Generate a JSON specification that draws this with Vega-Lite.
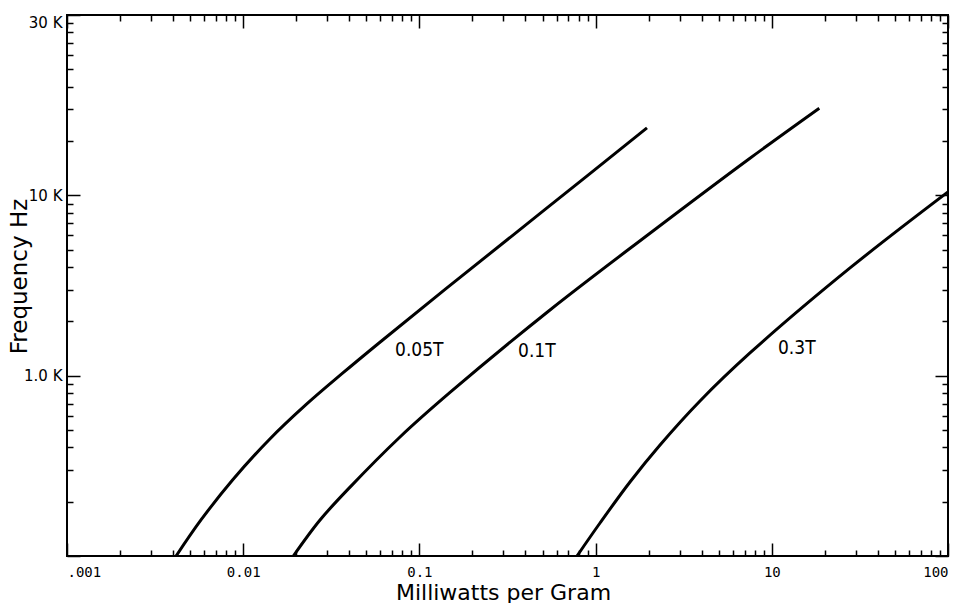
{
  "$schema": "https://vega.github.io/schema/vega-lite/v6.json",
  "width": 881,
  "height": 541,
  "autosize": {"type": "none"},
  "padding": {"left": 67, "top": 15, "right": 5, "bottom": 47},
  "background": "white",
  "datasets": {
    "curves": [
      {"series": "0.05T", "mw": 0.00416, "hz": 100},
      {"series": "0.05T", "mw": 0.00576, "hz": 158.4},
      {"series": "0.05T", "mw": 0.0087, "hz": 264},
      {"series": "0.05T", "mw": 0.01399, "hz": 440},
      {"series": "0.05T", "mw": 0.02263, "hz": 688},
      {"series": "0.05T", "mw": 0.03679, "hz": 1035},
      {"series": "0.05T", "mw": 0.05899, "hz": 1518},
      {"series": "0.05T", "mw": 0.141, "hz": 3027},
      {"series": "0.05T", "mw": 0.5129, "hz": 8299},
      {"series": "0.05T", "mw": 1.957, "hz": 23650},
      {"series": "0.1T", "mw": 0.01925, "hz": 100},
      {"series": "0.1T", "mw": 0.02729, "hz": 158.4},
      {"series": "0.1T", "mw": 0.0404, "hz": 241},
      {"series": "0.1T", "mw": 0.0776, "hz": 457},
      {"series": "0.1T", "mw": 0.1492, "hz": 807},
      {"series": "0.1T", "mw": 0.551, "hz": 2314},
      {"series": "0.1T", "mw": 2.036, "hz": 6163},
      {"series": "0.1T", "mw": 7.52, "hz": 16060},
      {"series": "0.1T", "mw": 18.6, "hz": 30420},
      {"series": "0.3T", "mw": 0.7843, "hz": 100},
      {"series": "0.3T", "mw": 1.059, "hz": 152.4},
      {"series": "0.3T", "mw": 1.567, "hz": 257.3},
      {"series": "0.3T", "mw": 2.321, "hz": 412.7},
      {"series": "0.3T", "mw": 3.913, "hz": 724},
      {"series": "0.3T", "mw": 7.52, "hz": 1336},
      {"series": "0.3T", "mw": 27.8, "hz": 3957},
      {"series": "0.3T", "mw": 100, "hz": 10445}
    ],
    "labels": [
      {"label": "0.05T", "mw": 0.0727, "hz": 1389},
      {"label": "0.1T", "mw": 0.3628, "hz": 1371},
      {"label": "0.3T", "mw": 10.84, "hz": 1425}
    ]
  },
  "layer": [
    {
      "data": {"name": "curves"},
      "mark": {"type": "line", "color": "black", "strokeWidth": 3, "interpolate": "catmull-rom", "clip": true},
      "encoding": {
        "x": {
          "field": "mw", "type": "quantitative",
          "scale": {"type": "log", "domain": [0.001, 100], "nice": false},
          "axis": {
            "orient": "bottom", "offset": -13, "tickSize": 13,
            "title": "Milliwatts per Gram",
            "titleFont": "DejaVu Sans", "titleFontSize": 22, "titleFontWeight": "normal",
            "titleX": 436, "titleY": 56, "titleBaseline": "alphabetic", "titleAlign": "center",
            "values": [0.001, 0.01, 0.1, 1, 10, 100],
            "labelExpr": "datum.value == 0.001 ? '.001' : datum.value == 0.01 ? '0.01' : datum.value == 0.1 ? '0.1' : datum.value == 1 ? '1' : datum.value == 10 ? '10' : '100'",
            "labelFont": "DejaVu Sans Mono", "labelFontSize": 14, "labelPadding": 9, "labelOverlap": false, "labelFlush": true
          }
        },
        "y": {
          "field": "hz", "type": "quantitative",
          "scale": {"type": "log", "domain": [100, 100000], "nice": false},
          "axis": {
            "orient": "left", "offset": -13, "tickSize": 13,
            "title": "Frequency Hz",
            "titleFont": "DejaVu Sans", "titleFontSize": 23, "titleFontWeight": "normal",
            "titleX": -61, "titleY": 261, "titleBaseline": "middle", "titleAngle": -90, "titleAlign": "center",
            "values": [100, 1000, 10000, 100000],
            "labelExpr": "datum.value == 100000 ? '30 K' : datum.value == 10000 ? '10 K' : datum.value == 1000 ? '1.0 K' : ''",
            "labelFont": "DejaVu Sans", "labelFontSize": 15, "labelPadding": 5, "labelOverlap": false, "labelFlush": true
          }
        },
        "detail": {"field": "series"}
      }
    },
    {
      "data": {"name": "labels"},
      "mark": {"type": "text", "align": "left", "baseline": "middle", "font": "DejaVu Sans Condensed, Liberation Sans, sans-serif", "fontSize": 19, "color": "black"},
      "encoding": {
        "x": {
          "field": "mw", "type": "quantitative",
          "scale": {"type": "log", "domain": [0.001, 100], "nice": false},
          "axis": {
            "orient": "bottom", "offset": -6, "tickSize": 6, "title": null, "labels": false,
            "values": [0.002,0.003,0.004,0.005,0.006,0.007,0.008,0.009,0.02,0.03,0.04,0.05,0.06,0.07,0.08,0.09,0.2,0.3,0.4,0.5,0.6,0.7,0.8,0.9,2,3,4,5,6,7,8,9,20,30,40,50,60,70,80,90]
          }
        },
        "y": {
          "field": "hz", "type": "quantitative",
          "scale": {"type": "log", "domain": [100, 100000], "nice": false},
          "axis": {
            "orient": "left", "offset": -6, "tickSize": 6, "title": null, "labels": false,
            "values": [200,300,400,500,600,700,800,900,2000,3000,4000,5000,6000,7000,8000,9000,20000,30000,40000,50000,60000,70000,80000,90000]
          }
        },
        "text": {"field": "label"}
      }
    },
    {
      "data": {"name": "labels"},
      "mark": {"type": "point", "opacity": 0},
      "encoding": {
        "x": {
          "field": "mw", "type": "quantitative",
          "scale": {"type": "log", "domain": [0.001, 100], "nice": false},
          "axis": {
            "orient": "top", "offset": -13, "tickSize": 13, "title": null, "labels": false,
            "values": [0.001, 0.01, 0.1, 1, 10, 100]
          }
        },
        "y": {
          "field": "hz", "type": "quantitative",
          "scale": {"type": "log", "domain": [100, 100000], "nice": false},
          "axis": {
            "orient": "right", "offset": -13, "tickSize": 13, "title": null, "labels": false,
            "values": [100, 1000, 10000, 100000]
          }
        }
      }
    },
    {
      "data": {"name": "labels"},
      "mark": {"type": "point", "opacity": 0},
      "encoding": {
        "x": {
          "field": "mw", "type": "quantitative",
          "scale": {"type": "log", "domain": [0.001, 100], "nice": false},
          "axis": {
            "orient": "top", "offset": -6, "tickSize": 6, "title": null, "labels": false,
            "values": [0.002,0.003,0.004,0.005,0.006,0.007,0.008,0.009,0.02,0.03,0.04,0.05,0.06,0.07,0.08,0.09,0.2,0.3,0.4,0.5,0.6,0.7,0.8,0.9,2,3,4,5,6,7,8,9,20,30,40,50,60,70,80,90]
          }
        },
        "y": {
          "field": "hz", "type": "quantitative",
          "scale": {"type": "log", "domain": [100, 100000], "nice": false},
          "axis": {
            "orient": "right", "offset": -6, "tickSize": 6, "title": null, "labels": false,
            "values": [200,300,400,500,600,700,800,900,2000,3000,4000,5000,6000,7000,8000,9000,20000,30000,40000,50000,60000,70000,80000,90000]
          }
        }
      }
    }
  ],
  "resolve": {"axis": {"x": "independent", "y": "independent"}},
  "config": {
    "view": {"stroke": "black", "strokeWidth": 2},
    "axis": {"grid": false, "domain": false, "ticks": true, "tickColor": "black", "tickWidth": 1.5, "labelColor": "black", "titleColor": "black"}
  }
}
